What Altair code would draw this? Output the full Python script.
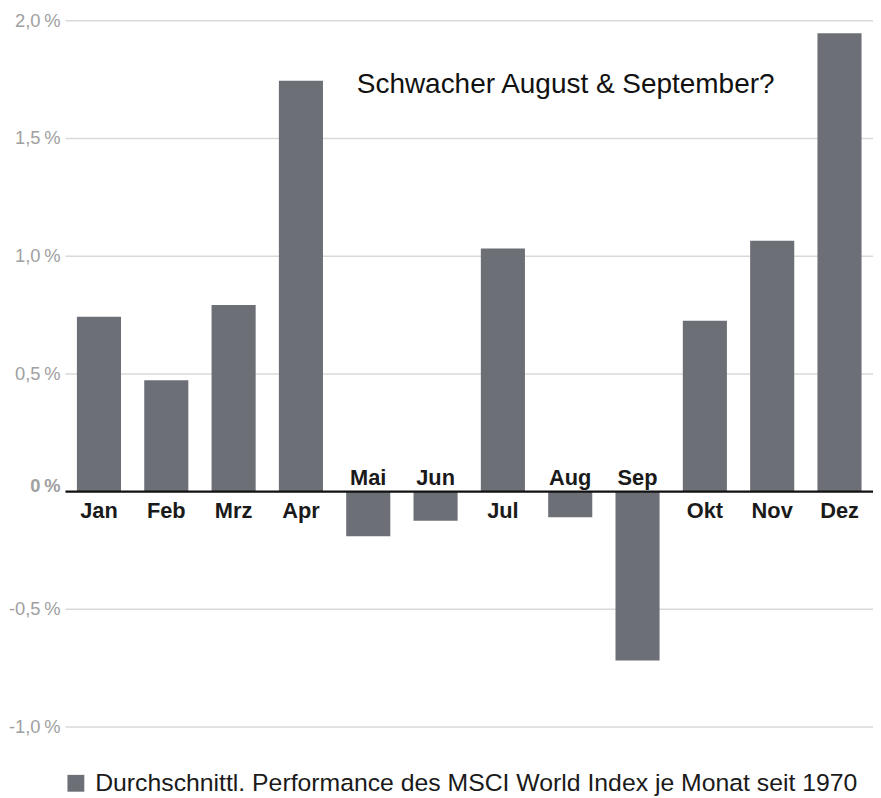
import altair as alt
import pandas as pd

months = ["Jan", "Feb", "Mrz", "Apr", "Mai", "Jun", "Jul", "Aug", "Sep", "Okt", "Nov", "Dez"]
values = [0.743, 0.473, 0.793, 1.745, -0.19, -0.124, 1.033, -0.109, -0.718, 0.726, 1.066, 1.947]
tick_values = [2.0, 1.5, 1.0, 0.5, -0.5, -1.0]
tick_labels = ["2,0\u2009%", "1,5\u2009%", "1,0\u2009%", "0,5\u2009%", "-0,5\u2009%", "-1,0\u2009%"]
zero_label_text = ["0\u2009%"]
series_name = "Durchschnittl. Performance des MSCI World Index je Monat seit 1970"
title_text = ["Schwacher August & September?"]

df = pd.DataFrame({"month": months, "value": values, "series": [series_name] * len(months)})
ticks = pd.DataFrame({"v": tick_values, "label": tick_labels})
zero_df = pd.DataFrame({"v": [0.0], "label": zero_label_text})
title_df = pd.DataFrame({"t": title_text})

FONT = "Liberation Sans"
BAR = "#6d6f77"
W, H = 815, 712.7

xscale = alt.Scale(domain=months, paddingInner=0.345, paddingOuter=0.17)
yscale = alt.Scale(domain=[-1.0, 2.0], nice=False)

X = alt.X("month:N", scale=xscale, axis=None, sort=months)
Yv = alt.Y("v:Q", scale=yscale, axis=None)
Yz = alt.Y("z:Q", scale=yscale, axis=None)

grid = alt.Chart(ticks).mark_rule(color="#d9d9d9", strokeWidth=1.5).encode(y=Yv)

ylabels = alt.Chart(ticks).mark_text(
    align="right", baseline="middle", font=FONT, fontSize=18.5, color="#a0a0a0"
).encode(x=alt.value(-5), y=Yv, text="label:N")

zero_label = alt.Chart(zero_df).mark_text(
    align="right", baseline="alphabetic", font=FONT, fontSize=18.5, fontWeight="bold",
    color="#a0a0a0"
).encode(x=alt.value(-5), y=Yv, text="label:N")

bars = alt.Chart(df).mark_bar(strokeWidth=0).encode(
    x=X,
    y=alt.Y("value:Q", scale=yscale, axis=None),
    color=alt.Color(
        "series:N",
        scale=alt.Scale(range=[BAR]),
        legend=alt.Legend(
            title=None, orient="none", legendX=-2, legendY=757,
            symbolType="square", symbolSize=289, symbolStrokeWidth=0,
            labelFont=FONT, labelFontSize=25, labelColor="#1a1a1a",
            labelLimit=0, labelOffset=7, padding=0,
        ),
    ),
)

zero_rule = alt.Chart(zero_df).mark_rule(color="#111111", strokeWidth=2.5).encode(y=Yv)

pos_labels = alt.Chart(df).transform_filter("datum.value >= 0").transform_calculate(
    z="0"
).mark_text(
    font=FONT, fontSize=22, fontWeight="bold", color="#1a1a1a",
    align="center", baseline="alphabetic", dy=26.5
).encode(x=X, y=Yz, text="month:N")

neg_labels = alt.Chart(df).transform_filter("datum.value < 0").transform_calculate(
    z="0"
).mark_text(
    font=FONT, fontSize=22, fontWeight="bold", color="#1a1a1a",
    align="center", baseline="alphabetic", dy=-6.5
).encode(x=X, y=Yz, text="month:N")

title = alt.Chart(title_df).mark_text(
    font=FONT, fontSize=28.2, color="#111111", align="left", baseline="alphabetic"
).encode(x=alt.value(294), y=alt.value(72.7), text="t:N")

chart = alt.layer(
    grid, bars, zero_rule, ylabels, zero_label, pos_labels, neg_labels, title
).properties(
    width=W, height=H,
    background="white",
    autosize=alt.AutoSizeParams(type="none"),
    padding={"left": 58, "top": 9.3, "right": 0, "bottom": 68},
).configure_view(stroke=None, strokeWidth=0).configure_axis(
    domain=False, ticks=False, grid=False
)

chart.save("out.html", embed_options={"renderer": "svg", "actions": False})
